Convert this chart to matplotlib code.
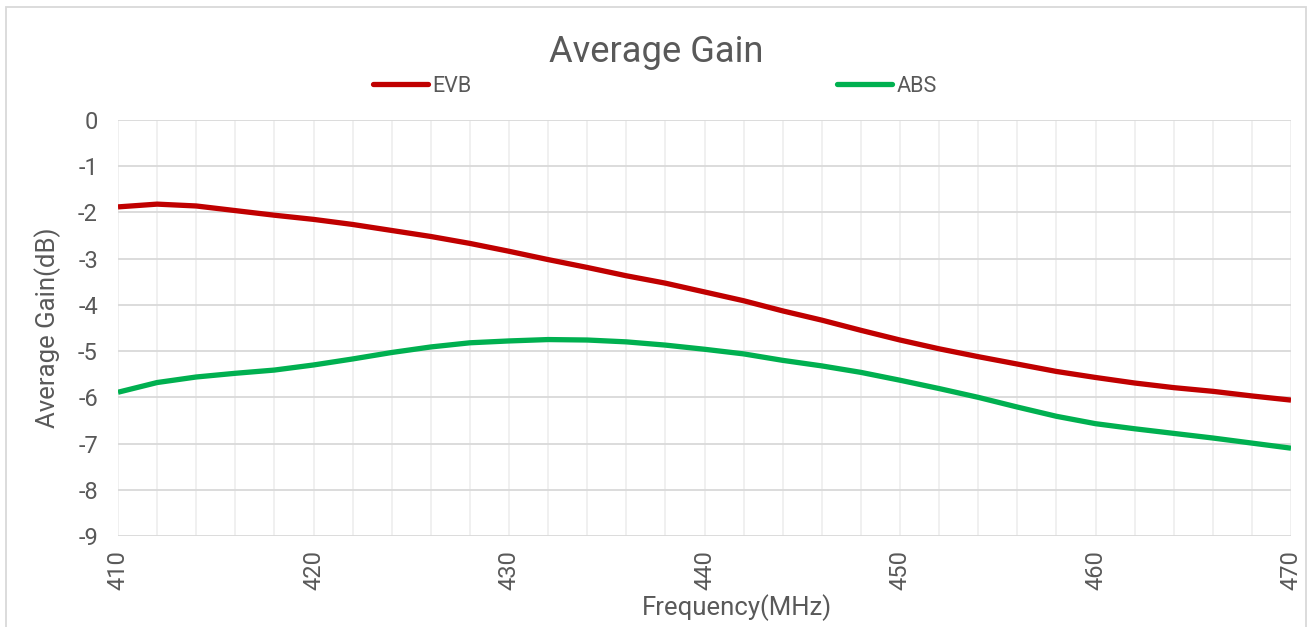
import matplotlib
matplotlib.use("Agg")
import matplotlib.pyplot as plt
from matplotlib.ticker import MultipleLocator
from matplotlib.patches import Rectangle

# ---- data ----
freq_mhz = [410, 412, 414, 416, 418, 420, 422, 424, 426, 428, 430,
            432, 434, 436, 438, 440, 442, 444, 446, 448, 450,
            452, 454, 456, 458, 460, 462, 464, 466, 468, 470]
evb_gain = [-1.88, -1.82, -1.86, -1.96, -2.06, -2.15, -2.26, -2.39, -2.52, -2.67, -2.84,
            -3.02, -3.19, -3.37, -3.53, -3.72, -3.91, -4.13, -4.33, -4.55, -4.76,
            -4.95, -5.12, -5.28, -5.44, -5.57, -5.69, -5.79, -5.87, -5.97, -6.06]
abs_gain = [-5.89, -5.68, -5.56, -5.48, -5.41, -5.30, -5.17, -5.03, -4.91, -4.82, -4.78,
            -4.75, -4.76, -4.80, -4.87, -4.96, -5.06, -5.20, -5.32, -5.46, -5.63,
            -5.81, -6.00, -6.21, -6.41, -6.57, -6.68, -6.78, -6.88, -6.99, -7.10]
series_names = ["EVB", "ABS"]
x_ticks = [410, 420, 430, 440, 450, 460, 470]
y_ticks = [0, -1, -2, -3, -4, -5, -6, -7, -8, -9]
title_text = "Average Gain"
x_label = "Frequency(MHz)"
y_label = "Average Gain(dB)"

# ---- style ----
FONT = ["Roboto", "DejaVu Sans"]
TXT = "#595959"
plt.rcParams["font.family"] = FONT
plt.rcParams["axes.unicode_minus"] = False

W, H = 1309, 627
fig = plt.figure(figsize=(W / 100, H / 100), dpi=100)
fig.patch.set_facecolor("white")

ax = fig.add_axes([118 / W, 1 - 536 / H, (1291 - 118) / W, (536 - 120) / H])

l1, = ax.plot(freq_mhz, evb_gain, color="#C00000", lw=3.8, solid_capstyle="butt",
              solid_joinstyle="round", label=series_names[0], zorder=3)
l2, = ax.plot(freq_mhz, abs_gain, color="#00B050", lw=3.8, solid_capstyle="butt",
              solid_joinstyle="round", label=series_names[1], zorder=3)

ax.set_xlim(410, 470)
ax.set_ylim(-9, 0)
ax.set_xticks(x_ticks)
ax.set_yticks(y_ticks)
ax.xaxis.set_minor_locator(MultipleLocator(2))

ax.grid(which="major", axis="y", color="#D9D9D9", lw=1.3, zorder=1)
ax.grid(which="both", axis="x", color="#EFEFEF", lw=1.3, zorder=0)
for s in ax.spines.values():
    s.set_visible(False)
ax.tick_params(which="both", length=0)
ax.tick_params(axis="y", pad=14.4, labelsize=17, labelcolor=TXT)
ax.tick_params(axis="x", pad=10, labelsize=17, labelcolor=TXT, labelrotation=90)

ax.set_xlabel(x_label, fontsize=18.5, color=TXT)
ax.xaxis.set_label_coords((737 - 118) / (1291 - 118), -(608 - 536) / (536 - 120))
ax.xaxis.label.set_va("center")
ax.set_ylabel(y_label, fontsize=18.5, color=TXT)
ax.yaxis.set_label_coords(-(118 - 48) / (1291 - 118), 0.5)
ax.yaxis.label.set_va("center")

fig.text(656.5 / W, 1 - 52 / H, title_text, ha="center", va="center",
         fontsize=26.2, color=TXT)

leg = fig.legend(handles=[l1, l2], loc="center", bbox_to_anchor=(655 / W, 1 - 86 / H),
                 ncol=2, frameon=False, fontsize=15.5, handlelength=2.55,
                 handletextpad=0.2, columnspacing=17.0, labelcolor=TXT)
for h in leg.get_lines():
    h.set_solid_capstyle("round")

fig.add_artist(Rectangle((6 / W, -0.01), (1306 - 6) / W, 1 - 7 / H + 0.01,
                         transform=fig.transFigure, fill=False,
                         edgecolor="#D9D9D9", lw=1.3))

fig.savefig("out.png", dpi=100)
